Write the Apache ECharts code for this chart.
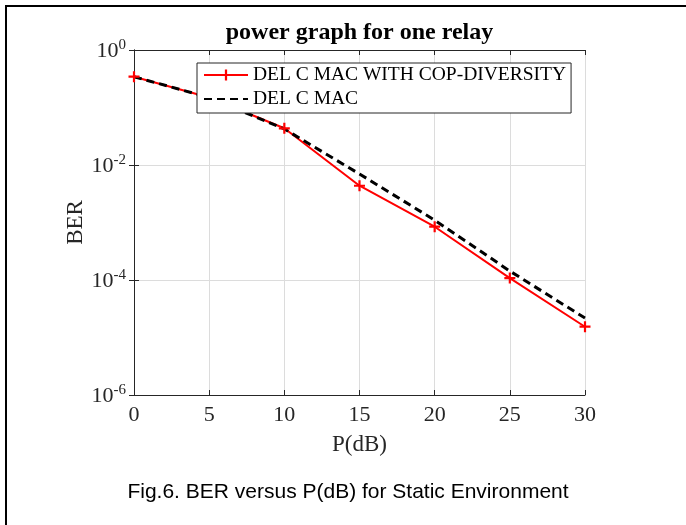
<!DOCTYPE html>
<html>
<head>
<meta charset="utf-8">
<script src="https://cdn.jsdelivr.net/npm/echarts@6/dist/echarts.min.js"></script>
<style>
  html, body { margin: 0; padding: 0; background: #fff; }
  #chart { width: 686px; height: 525px; }
</style>
</head>
<body>
<div id="chart"></div>
<script>
// ---- data ----
const powerDb = [0, 5, 10, 15, 20, 25, 30];
const berCopDiversity = [0.343, 0.149, 0.0435, 0.00436, 0.000845, 0.000108, 0.0000154];
const berDelCMac = [0.343, 0.149, 0.0423, 0.00697, 0.00110, 0.000143, 0.0000218];
const seriesNames = ['DEL C MAC WITH COP-DIVERSITY', 'DEL C MAC'];
const titleText = 'power graph for one relay';
const captionText = 'Fig.6. BER versus P(dB) for Static Environment';
const xAxisName = 'P(dB)';
const yAxisName = 'BER';
const xTickStep = 5;
const yMinExp = -6, yMaxExp = 0, yExpStep = 2;

const SERIF = '"Liberation Serif", "Times New Roman", serif';
const SANS = '"Liberation Sans", Arial, sans-serif';
const AX = '#262626';
const plusPath = 'path://M4,0H6V4H10V6H6V10H4V6H0V4H4Z';

const chart = echarts.init(document.getElementById('chart'), null, { renderer: 'canvas' });

const xCommon = {
  type: 'value', min: powerDb[0], max: powerDb[powerDb.length - 1], interval: xTickStep,
  axisLine: { show: true, lineStyle: { color: AX, width: 1 } },
  axisTick: { show: true, inside: true, length: 5, lineStyle: { color: AX } }
};
const yCommon = {
  type: 'log', logBase: 10, min: Math.pow(10, yMinExp), max: Math.pow(10, yMaxExp), interval: yExpStep,
  axisLine: { show: true, lineStyle: { color: AX, width: 1 } },
  axisTick: { show: true, inside: true, length: 5, lineStyle: { color: AX } },
  minorTick: { show: false }
};

const option = {
  animation: false,
  backgroundColor: '#fff',
  title: {
    text: titleText, left: 359.5, top: 21, textAlign: 'center', padding: 0,
    textStyle: { fontFamily: SERIF, fontWeight: 'bold', fontSize: 24, color: '#000' }
  },
  grid: { left: 134, right: 101, top: 50, bottom: 130, show: false },
  legend: {
    left: 197, top: 63, orient: 'vertical',
    padding: [2, 5, 4, 6], itemGap: 4, itemWidth: 44, itemHeight: 14,
    backgroundColor: '#fff', borderColor: AX, borderWidth: 1, borderRadius: 0,
    textStyle: { fontFamily: SERIF, fontSize: 19.5, color: '#000', lineHeight: 20 },
    data: [
      { name: seriesNames[0] },
      { name: seriesNames[1], itemStyle: { opacity: 0 } }
    ]
  },
  xAxis: [
    Object.assign({}, xCommon, {
      position: 'bottom',
      name: xAxisName, nameLocation: 'middle', nameGap: 38, nameMoveOverlap: false,
      nameTextStyle: { fontFamily: SERIF, fontSize: 23, color: AX },
      axisLabel: { show: true, margin: 9, fontFamily: SERIF, fontSize: 22, color: AX },
      splitLine: { show: true, lineStyle: { color: '#dcdcdc', width: 1 } }
    }),
    Object.assign({}, xCommon, {
      position: 'top', axisLabel: { show: false }, splitLine: { show: false }
    })
  ],
  yAxis: [
    Object.assign({}, yCommon, {
      position: 'left',
      name: yAxisName, nameLocation: 'middle', nameGap: 47, nameMoveOverlap: false,
      nameTextStyle: { fontFamily: SERIF, fontSize: 23, color: AX },
      axisLabel: {
        show: true, margin: 8,
        formatter: function (v) {
          const e = Math.round(Math.log10(v));
          return '{b|10}{s|' + e + '}';
        },
        rich: {
          b: { fontFamily: SERIF, fontSize: 22, color: AX, lineHeight: 24, verticalAlign: 'bottom' },
          s: { fontFamily: SERIF, fontSize: 15, color: AX, lineHeight: 15, verticalAlign: 'top' }
        }
      },
      splitLine: { show: true, lineStyle: { color: '#dcdcdc', width: 1 } }
    }),
    Object.assign({}, yCommon, {
      position: 'right', axisLabel: { show: false }, splitLine: { show: false }
    })
  ],
  series: [
    {
      name: seriesNames[0], type: 'line', xAxisIndex: 0, yAxisIndex: 0,
      data: powerDb.map((x, i) => [x, berCopDiversity[i]]),
      symbol: plusPath, symbolSize: 11, showSymbol: true,
      itemStyle: { color: '#ff0000' },
      lineStyle: { color: '#ff0000', width: 2 }
    },
    {
      name: seriesNames[1], type: 'line', xAxisIndex: 0, yAxisIndex: 0,
      data: powerDb.map((x, i) => [x, berDelCMac[i]]),
      symbol: 'none',
      itemStyle: { color: '#000' },
      lineStyle: { color: '#000', width: 3, type: [8, 5] }
    }
  ],
  graphic: [
    { type: 'line', shape: { x1: 5, y1: 6, x2: 686, y2: 6 }, style: { stroke: '#000', lineWidth: 2 }, silent: true },
    { type: 'line', shape: { x1: 6, y1: 5, x2: 6, y2: 525 }, style: { stroke: '#000', lineWidth: 2 }, silent: true },
    {
      type: 'text', x: 348, y: 492, silent: true,
      style: { text: captionText, fontFamily: SANS, fontSize: 21, fill: '#000', align: 'center', verticalAlign: 'middle' }
    }
  ]
};

chart.setOption(option);
</script>
</body>
</html>
